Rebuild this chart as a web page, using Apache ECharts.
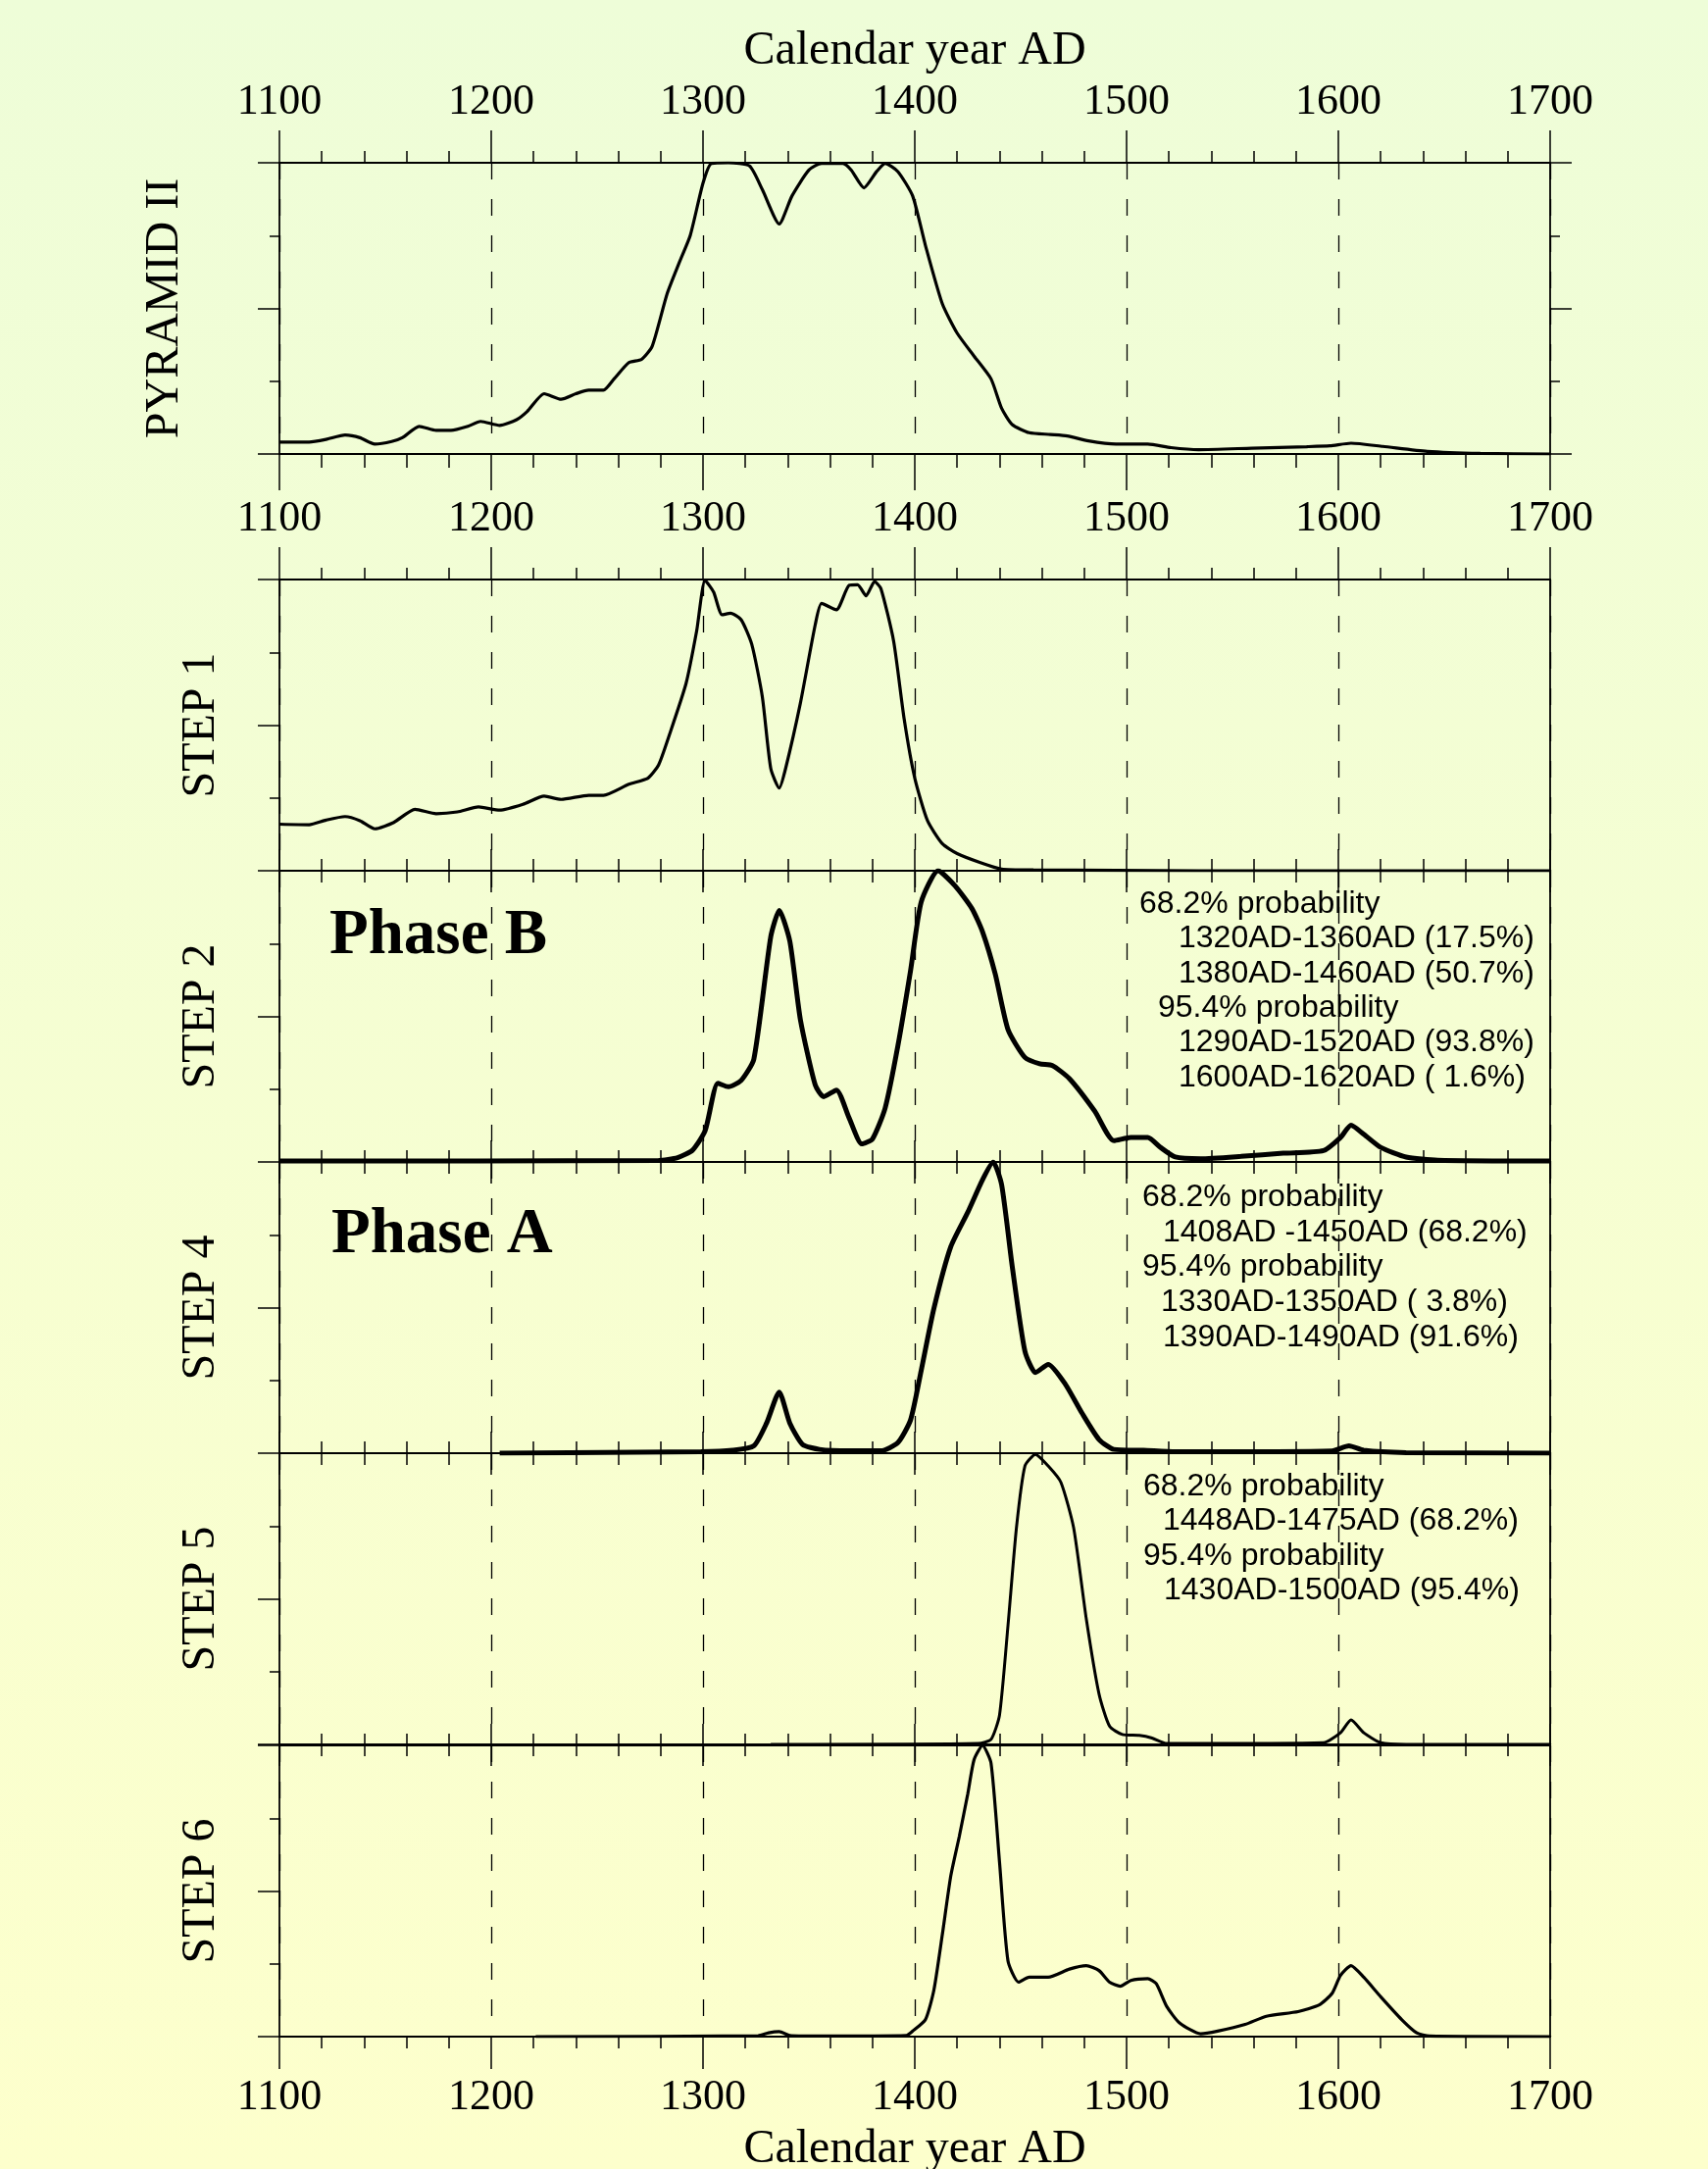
<!DOCTYPE html>
<html>
<head>
<meta charset="utf-8">
<title>Calendar year AD</title>
<script src="https://cdn.jsdelivr.net/npm/echarts@6/dist/echarts.min.js"></script>
<style>
  html, body { margin: 0; padding: 0; }
  #chart { width: 1742px; height: 2212px; }
</style>
</head>
<body>
<div id="chart"></div>
<script>
// year axis
const yearMin = 1100
const yearMax = 1700
const yearStep = 100
const axisTitle = 'Calendar year AD'

const panelNames = ['PYRAMID II', 'STEP 1', 'STEP 2', 'STEP 4', 'STEP 5', 'STEP 6']

// probability curves, [year, relative probability]
const pyramid = [
  [1100, 0.041], [1114, 0.041], [1122, 0.05], [1131, 0.065], [1138, 0.056], [1145, 0.034],
  [1153, 0.043], [1158, 0.056], [1166, 0.095], [1174, 0.081], [1181, 0.081], [1189, 0.095],
  [1195, 0.112], [1204, 0.098], [1212, 0.118], [1217, 0.146], [1225, 0.207], [1233, 0.188],
  [1240, 0.207], [1246, 0.219], [1253, 0.219], [1258, 0.258], [1265, 0.314], [1271, 0.325],
  [1276, 0.37], [1283, 0.549], [1289, 0.661], [1294, 0.751], [1300, 0.93], [1304, 0.998],
  [1312, 1.0], [1322, 0.989], [1328, 0.908], [1336, 0.79], [1342, 0.886], [1350, 0.975],
  [1356, 0.998], [1366, 0.998], [1370, 0.975], [1376, 0.914], [1382, 0.97], [1386, 0.998],
  [1392, 0.97], [1399, 0.886], [1405, 0.717], [1413, 0.516], [1420, 0.415], [1428, 0.336],
  [1436, 0.258], [1441, 0.157], [1446, 0.101], [1454, 0.073], [1464, 0.067], [1472, 0.062],
  [1482, 0.045], [1495, 0.034], [1510, 0.034], [1521, 0.022], [1534, 0.015], [1559, 0.02],
  [1585, 0.025], [1596, 0.028], [1606, 0.037], [1621, 0.026], [1642, 0.009], [1667, 0.002],
  [1700, 0],
]

const step1 = [
  [1100, 0.16], [1114, 0.158], [1122, 0.174], [1131, 0.186], [1138, 0.172], [1145, 0.144],
  [1154, 0.166], [1164, 0.211], [1174, 0.196], [1184, 0.202], [1194, 0.219], [1204, 0.208],
  [1215, 0.228], [1225, 0.256], [1233, 0.245], [1246, 0.259], [1253, 0.259], [1265, 0.297],
  [1274, 0.318], [1279, 0.363], [1284, 0.464], [1292, 0.643], [1297, 0.823], [1301, 0.997],
  [1305, 0.957], [1309, 0.879], [1313, 0.884], [1318, 0.862], [1323, 0.778], [1328, 0.598],
  [1332, 0.351], [1336, 0.284], [1339, 0.351], [1346, 0.576], [1353, 0.845], [1356, 0.918],
  [1363, 0.896], [1369, 0.98], [1373, 0.982], [1377, 0.944], [1381, 0.993], [1384, 0.969],
  [1390, 0.789], [1395, 0.52], [1400, 0.318], [1406, 0.172], [1413, 0.093], [1420, 0.059],
  [1431, 0.028], [1441, 0.006], [1456, 0.003], [1534, 0], [1700, 0],
]

const step2 = [
  [1100, 0.003], [1279, 0.005], [1288, 0.015], [1295, 0.04], [1301, 0.107], [1307, 0.27],
  [1312, 0.258], [1318, 0.28], [1324, 0.353], [1332, 0.774], [1336, 0.864], [1341, 0.758],
  [1346, 0.488], [1353, 0.264], [1357, 0.224], [1363, 0.247], [1369, 0.151], [1375, 0.062],
  [1380, 0.079], [1386, 0.185], [1392, 0.398], [1398, 0.657], [1403, 0.892], [1411, 1.0],
  [1419, 0.948], [1427, 0.87], [1432, 0.79], [1438, 0.645], [1444, 0.455], [1452, 0.359],
  [1459, 0.337], [1465, 0.331], [1473, 0.286], [1485, 0.174], [1494, 0.073], [1502, 0.084],
  [1510, 0.084], [1516, 0.05], [1523, 0.017], [1535, 0.011], [1554, 0.019], [1574, 0.03],
  [1593, 0.039], [1601, 0.084], [1606, 0.126], [1612, 0.095], [1620, 0.05], [1632, 0.017],
  [1647, 0.006], [1700, 0.003],
]

const step4 = [
  [1204, 0], [1299, 0.005], [1314, 0.01], [1324, 0.025], [1330, 0.103], [1336, 0.21],
  [1341, 0.103], [1347, 0.03], [1355, 0.013], [1369, 0.008], [1384, 0.008], [1392, 0.036],
  [1398, 0.114], [1403, 0.283], [1409, 0.496], [1417, 0.709], [1425, 0.827], [1432, 0.939],
  [1437, 1.0], [1441, 0.922], [1446, 0.642], [1452, 0.35], [1457, 0.277], [1463, 0.305],
  [1471, 0.238], [1479, 0.137], [1487, 0.047], [1494, 0.013], [1508, 0.01], [1523, 0.005],
  [1597, 0.008], [1605, 0.025], [1612, 0.01], [1632, 0.002], [1700, 0],
]

const step5 = [
  [1332, 0], [1430, 0.003], [1436, 0.017], [1440, 0.1], [1444, 0.408], [1448, 0.744],
  [1452, 0.956], [1457, 0.996], [1463, 0.956], [1469, 0.9], [1475, 0.744], [1481, 0.43],
  [1487, 0.173], [1492, 0.062], [1498, 0.034], [1506, 0.031], [1512, 0.022], [1519, 0.003],
  [1593, 0.006], [1601, 0.04], [1606, 0.084], [1612, 0.04], [1620, 0.006], [1632, 0],
  [1700, 0],
]

const step6 = [
  [1221, 0], [1326, 0.003], [1331, 0.013], [1336, 0.017], [1341, 0.004], [1353, 0.002],
  [1396, 0.004], [1399, 0.019], [1405, 0.058], [1409, 0.159], [1413, 0.35], [1417, 0.552],
  [1421, 0.687], [1425, 0.833], [1428, 0.951], [1432, 1.0], [1436, 0.939], [1440, 0.6],
  [1444, 0.26], [1449, 0.187], [1454, 0.204], [1463, 0.204], [1473, 0.232], [1481, 0.244],
  [1487, 0.227], [1492, 0.187], [1497, 0.173], [1502, 0.193], [1510, 0.199], [1514, 0.182],
  [1519, 0.103], [1525, 0.047], [1535, 0.01], [1543, 0.019], [1556, 0.042], [1566, 0.07],
  [1581, 0.086], [1591, 0.109], [1597, 0.148], [1601, 0.21], [1606, 0.244], [1612, 0.204],
  [1620, 0.137], [1630, 0.058], [1637, 0.013], [1643, 0.002], [1700, 0],
]

const phaseB = 'Phase B'
const phaseA = 'Phase A'

const step2Ranges = [
  '68.2% probability',
  '1320AD-1360AD (17.5%)',
  '1380AD-1460AD (50.7%)',
  '95.4% probability',
  '1290AD-1520AD (93.8%)',
  '1600AD-1620AD ( 1.6%)',
]
const step4Ranges = [
  '68.2% probability',
  '1408AD -1450AD (68.2%)',
  '95.4% probability',
  '1330AD-1350AD ( 3.8%)',
  '1390AD-1490AD (91.6%)',
]
const step5Ranges = [
  '68.2% probability',
  '1448AD-1475AD (68.2%)',
  '95.4% probability',
  '1430AD-1500AD (95.4%)',
]

// ---- layout ----
const SERIF = '"Liberation Serif", "Times New Roman", serif'
const SANS = '"Liberation Sans", Arial, sans-serif'
const plotLeft = 285
const plotRight = 161
const panelTops = [166, 591, 888, 1185, 1482, 1780]
const panelHeight = 297
const curves = [pyramid, step1, step2, step4, step5, step6]
const curveWidths = [3.2, 3.2, 5, 5, 3, 3.2]
const nameGaps = [117, 80, 80, 80, 80, 80]

const grids = panelTops.map((top) => ({
  left: plotLeft,
  right: plotRight,
  top: top,
  height: panelHeight,
  outerBoundsMode: 'none',
}))

function xAxis(gridIndex, position, tickLen, minorLen, withLabels, withName, withSplit) {
  return {
    type: 'value',
    gridIndex,
    position,
    min: yearMin,
    max: yearMax,
    interval: yearStep,
    name: withName ? axisTitle : '',
    nameLocation: 'middle',
    nameGap: position === 'top' ? 114 : 115,
    nameMoveOverlap: false,
    nameTextStyle: {
      color: '#000',
      fontFamily: SERIF,
      fontSize: 48,
      verticalAlign: 'middle',
    },
    axisLine: { onZero: false, lineStyle: { color: '#000', width: 2 } },
    axisTick: { show: true, length: tickLen, lineStyle: { color: '#000', width: 1.5 } },
    minorTick: {
      show: true,
      splitNumber: 5,
      length: minorLen,
      lineStyle: { color: '#000', width: 1.5 },
    },
    axisLabel: {
      show: withLabels,
      margin: 62,
      color: '#000',
      fontFamily: SERIF,
      fontSize: 44,
      verticalAlign: 'middle',
      formatter: (v) => String(v),
    },
    splitLine: {
      show: withSplit,
      lineStyle: { color: '#000', width: 1.3, type: [17, 20] },
    },
    minorSplitLine: { show: false },
  }
}

function yAxis(gridIndex, position, withTicks, name, nameGap) {
  return {
    type: 'value',
    gridIndex,
    position,
    min: 0,
    max: 1,
    interval: 0.5,
    name: name || '',
    nameLocation: 'middle',
    nameGap: nameGap || 0,
    nameMoveOverlap: false,
    nameTextStyle: {
      color: '#000',
      fontFamily: SERIF,
      fontSize: 48,
      verticalAlign: 'middle',
    },
    axisLine: { show: true, onZero: false, lineStyle: { color: '#000', width: 1.8 } },
    axisTick: { show: withTicks, length: 22, lineStyle: { color: '#000', width: 1.5 } },
    minorTick: {
      show: withTicks,
      splitNumber: 2,
      length: 10,
      lineStyle: { color: '#000', width: 1.5 },
    },
    axisLabel: { show: false },
    splitLine: { show: false },
  }
}

const xAxes = []
const yAxes = []
const series = []
const last = panelTops.length - 1

panelTops.forEach((_, i) => {
  const topTick = i <= 1 ? 33 : 22
  const bottomTick = i === 0 ? 37 : i === last ? 33 : 22
  const bottomMinor = i === 0 ? 14 : 12
  const topLabels = i <= 1
  xAxes.push(xAxis(i, 'top', topTick, 12, topLabels, i === 0, false))
  xAxes.push(xAxis(i, 'bottom', bottomTick, bottomMinor, i === last, i === last, true))
  yAxes.push(yAxis(i, 'left', true, panelNames[i], nameGaps[i]))
  yAxes.push(yAxis(i, 'right', i === 0))
  series.push({
    type: 'line',
    xAxisIndex: 2 * i + 1,
    yAxisIndex: 2 * i,
    data: curves[i],
    showSymbol: false,
    smooth: 0.2,
    silent: true,
    z: 5,
    lineStyle: { color: '#000', width: curveWidths[i] },
  })
})

function textLines(lines, xs, firstBaseline, step) {
  return lines.map((t, k) => ({
    type: 'text',
    x: xs[k],
    y: firstBaseline + k * step - 11,
    z: 10,
    style: {
      text: t,
      fill: '#000',
      fontFamily: SANS,
      fontSize: 32,
      verticalAlign: 'middle',
    },
  }))
}

function phaseText(t, x, baseline) {
  return {
    type: 'text',
    x,
    y: baseline - 22,
    z: 10,
    style: {
      text: t,
      fill: '#000',
      fontFamily: SERIF,
      fontSize: 65,
      fontWeight: 'bold',
      verticalAlign: 'middle',
    },
  }
}

const graphics = [
  phaseText(phaseB, 336, 977),
  phaseText(phaseA, 338, 1282),
  ...textLines(step2Ranges, [1162, 1202, 1202, 1181, 1202, 1202], 933, 35.4),
  ...textLines(step4Ranges, [1165, 1186, 1165, 1184, 1186], 1232, 35.7),
  ...textLines(step5Ranges, [1166, 1186, 1166, 1187], 1527, 35.4),
]

const chart = echarts.init(document.getElementById('chart'), null, {
  renderer: 'canvas',
  width: 1742,
  height: 2212,
})

chart.setOption({
  animation: false,
  backgroundColor: {
    type: 'linear',
    x: 0, y: 0, x2: 0, y2: 1,
    colorStops: [
      { offset: 0, color: '#eefdd8' },
      { offset: 1, color: '#fdffcc' },
    ],
  },
  grid: grids,
  xAxis: xAxes,
  yAxis: yAxes,
  series,
  graphic: graphics,
})
</script>
</body>
</html>
